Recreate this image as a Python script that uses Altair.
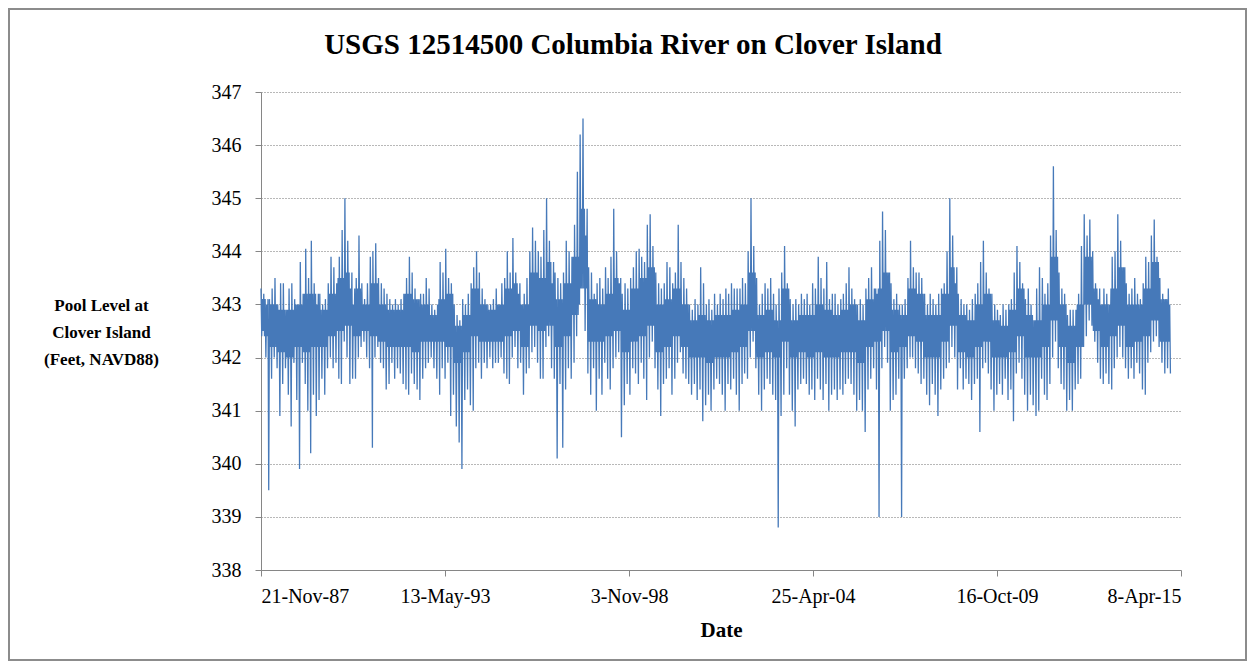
import altair as alt
import pandas as pd

# Monthly extremes of pool level (feet, NAVD88),
# starting 21-Nov-1987, one value per month.
HIGH_A = [343.3, 343.2, 343.0, 343.1, 343.3, 343.5, 343.0, 343.4, 343.4, 342.9,
          343.3, 343.4, 343.1, 343.0, 343.8, 343.2, 344.05, 343.5, 344.2, 343.4,
          343.0, 343.2, 343.0, 343.1, 343.4, 343.9, 343.7, 343.4, 343.9, 344.4,
          345.0, 344.2, 343.3, 343.0, 343.5, 344.3, 343.4, 343.1, 343.4, 343.9,
          344.0, 344.15, 343.5, 343.4, 343.3, 343.2, 343.1, 343.0, 343.1, 343.0,
          343.1, 343.2, 343.5, 343.9, 343.6, 343.3, 343.1, 343.2, 343.2, 343.5,
          343.3, 343.0, 342.9, 343.0, 343.8, 343.6, 344.05, 343.5, 343.4, 343.0,
          342.8, 342.7, 343.1, 343.0, 343.2, 343.4, 343.7, 344.0, 343.6, 343.3]
HIGH_B = [343.1, 343.0, 343.0, 343.1, 343.3, 343.0, 343.4, 343.5, 344.0, 343.6,
          344.25, 343.6, 343.2, 343.0, 343.2, 343.5, 344.0, 344.45, 344.2, 344.0,
          343.9, 344.4, 345.0, 344.2, 343.4, 343.6, 343.5, 343.4, 343.6, 344.2,
          344.0, 343.9, 344.5, 345.5, 346.2, 346.5, 344.3, 343.7, 343.6, 343.2,
          343.4, 343.5, 343.3, 343.7, 343.5, 343.9, 344.8, 344.0, 343.4, 343.2,
          343.4, 343.3, 343.5, 343.7, 344.0, 344.05, 343.9, 343.8, 344.5, 344.7,
          344.1, 343.6, 343.4, 343.3, 343.4, 343.8, 343.7, 343.4, 343.6, 344.5,
          343.8, 343.5, 343.3, 343.0, 342.9, 343.1, 343.0, 343.7, 343.4, 343.0]
HIGH_C = [343.1, 342.9, 343.2, 343.0, 343.2, 343.1, 343.3, 343.2, 343.4, 343.3,
          343.3, 343.3, 343.5, 343.4, 344.0, 345.0, 344.1, 343.5, 343.0, 343.2,
          343.4, 343.3, 343.5, 343.2, 343.0, 343.3, 343.6, 344.1, 343.4, 343.1,
          343.0, 343.1, 343.0, 343.2, 343.1, 343.2, 343.0, 343.4, 343.3, 343.9,
          343.5, 343.3, 343.8, 343.1, 343.2, 343.2, 343.0, 343.1, 343.2, 343.4,
          343.7, 343.3, 343.1, 343.0, 343.1, 343.0, 343.3, 343.5, 343.7, 343.3,
          343.2, 344.2, 344.75, 344.4, 343.6, 343.4, 343.1, 343.2, 343.0, 343.0,
          343.1, 343.5, 344.2, 343.7, 343.6, 343.6, 343.5, 343.2, 343.0, 343.2]
HIGH_D = [343.1, 343.0, 343.2, 343.3, 343.4, 344.0, 345.0, 344.3, 343.4, 343.2,
          343.1, 343.0, 343.0, 342.9, 343.1, 343.2, 343.4, 343.8, 344.2, 343.6,
          343.3, 343.2, 343.0, 342.9, 342.8, 343.0, 342.9, 343.0, 343.1, 343.6,
          344.1, 343.8, 343.4, 343.1, 343.3, 343.0, 342.7, 343.3, 343.7, 343.5,
          343.2, 343.4, 344.3, 345.6, 344.4, 343.6, 343.3, 343.2, 342.8, 342.9,
          342.9, 342.9, 343.2, 344.1, 344.7, 344.3, 344.6, 344.0, 343.4, 343.1,
          343.0, 343.3, 343.2, 343.0, 343.9, 344.0, 344.7, 344.2, 343.7, 343.4,
          343.2, 343.3, 343.5, 343.2, 343.1, 343.4, 343.9, 343.8, 344.3, 344.6,
          343.9, 343.5, 343.2, 343.1, 343.3]

LOW_A = [342.5, 342.0, 339.5, 341.6, 342.0, 341.8, 340.9, 341.5, 341.8, 341.3,
         340.7, 341.9, 341.2, 339.9, 341.9, 341.5, 341.0, 340.2, 341.3, 340.9,
         341.2, 341.6, 341.3, 341.8, 342.0, 341.8, 341.9, 341.6, 341.5, 342.3,
         342.0, 341.5, 341.6, 341.6, 342.0, 342.2, 342.3, 342.0, 341.8, 340.3,
         342.0, 342.2, 341.9, 341.8, 341.4, 341.5, 341.9, 341.6, 341.8, 341.7,
         341.5, 341.4, 341.3, 341.7, 341.5, 341.4, 341.2, 341.6, 341.8, 341.9,
         342.0, 341.8, 341.6, 341.3, 341.8, 341.6, 341.9, 340.9, 341.3, 340.7,
         340.4, 339.9, 341.2, 341.4, 341.1, 341.0, 341.8, 341.9, 341.6, 341.9]
LOW_B = [341.8, 342.0, 341.8, 341.9, 341.9, 342.0, 341.7, 341.6, 341.5, 342.0,
         342.2, 341.8, 341.9, 341.3, 341.7, 341.8, 342.1, 342.2, 341.9, 341.6,
         341.6, 342.2, 342.4, 341.8, 341.6, 340.1, 341.5, 340.3, 341.4, 341.8,
         341.6, 341.9, 342.4, 343.0, 343.3, 342.5, 341.7, 341.3, 341.8, 341.0,
         341.6, 341.3, 341.9, 341.6, 341.4, 341.8, 342.0, 342.1, 340.5, 341.1,
         341.5, 341.3, 341.8, 341.7, 341.5, 341.9, 341.6, 341.2, 342.0, 342.3,
         341.8, 341.4, 340.9, 341.5, 341.6, 341.8, 341.3, 341.6, 341.9, 342.1,
         341.7, 341.6, 341.5, 341.3, 341.5, 341.2, 341.4, 340.8, 341.1, 341.3]
LOW_C = [341.0, 341.4, 341.6, 341.5, 341.3, 341.0, 341.5, 341.4, 341.6, 341.3,
         341.0, 341.5, 341.7, 341.6, 342.0, 342.3, 341.8, 341.3, 341.0, 341.4,
         341.6, 341.5, 341.3, 341.2, 338.8, 340.9, 341.3, 341.8, 341.3, 341.0,
         340.7, 341.4, 341.5, 341.6, 341.5, 341.3, 341.4, 341.2, 341.6, 341.4,
         341.2, 341.5, 341.0, 341.3, 341.4, 341.2, 341.4, 341.3, 341.5, 341.6,
         341.5, 341.3, 341.0, 341.2, 341.0, 340.6, 341.4, 341.6, 341.8, 341.4,
         339.0, 341.8, 342.2, 341.9, 341.0, 341.2, 341.3, 341.6, 339.0, 341.6,
         341.8, 342.0, 342.0, 341.8, 341.7, 341.5, 341.6, 341.3, 341.1, 341.5]
LOW_D = [341.3, 340.9, 341.4, 341.6, 341.8, 341.9, 342.2, 342.0, 341.4, 341.8,
         341.4, 341.6, 341.5, 341.2, 341.5, 341.6, 340.6, 341.8, 341.9, 341.7,
         341.4, 341.0, 341.3, 341.5, 341.3, 341.6, 341.2, 341.4, 340.8, 341.7,
         341.9, 341.6, 341.3, 341.0, 341.3, 341.1, 340.9, 341.0, 341.6, 341.3,
         341.2, 341.5, 342.0, 342.3, 341.8, 341.5, 341.4, 341.0, 341.2, 341.0,
         341.4, 341.5, 341.6, 342.2, 342.4, 342.7, 342.6, 342.3, 341.9, 341.6,
         341.5, 341.7, 341.5, 341.4, 341.8, 342.0, 342.2, 342.0, 341.8, 341.6,
         341.8, 341.6, 341.9, 341.7, 341.4, 341.3, 341.9, 342.1, 342.3, 342.4,
         342.2, 341.9, 341.7, 341.8, 341.7]

# Edges of the dense core band, one value per quarter (3 months).
CORE_LO = [342.4, 342.2, 342.1, 342.0, 342.2, 342.1, 342.2, 342.2, 342.4, 342.5,
           342.6, 342.4, 342.5, 342.4, 342.3, 342.2, 342.2, 342.2, 342.1, 342.3,
           342.3, 342.3, 342.2, 341.9, 342.1, 342.4, 342.3, 342.3, 342.3, 342.4,
           342.5, 342.2, 342.6, 342.5, 342.6, 342.2, 342.4, 342.8, 343.3, 342.3,
           342.3, 342.4, 342.5, 342.1, 342.3, 342.4, 342.6, 342.1, 342.2, 342.4,
           342.2, 342.0, 342.0, 341.9, 342.0, 342.0, 342.1, 342.2, 342.5, 342.0,
           342.1, 342.0, 342.3, 342.0, 342.1, 342.0, 342.1, 342.0, 342.0, 342.1,
           342.1, 341.9, 342.2, 342.3, 342.5, 342.1, 342.2, 342.4, 342.3, 342.0,
           342.0, 342.3, 342.6, 342.1, 342.0, 342.2, 342.3, 342.0, 342.0, 342.1,
           342.4, 342.0, 342.0, 342.2, 342.7, 342.2, 341.9, 342.2, 343.0, 342.5,
           342.2, 342.4, 342.6, 342.2, 342.3, 342.4, 342.7, 342.3, 342.3]
CORE_HI = [343.1, 343.0, 342.9, 342.9, 343.0, 343.2, 343.2, 342.9, 343.2, 343.5,
           343.6, 343.3, 343.0, 343.4, 343.0, 342.9, 342.9, 343.2, 343.1, 343.0,
           342.8, 343.1, 343.2, 342.6, 342.8, 343.3, 343.0, 342.9, 343.0, 343.3,
           343.4, 343.0, 343.6, 343.5, 343.8, 343.1, 343.4, 343.9, 344.8, 343.1,
           343.0, 343.2, 343.5, 342.9, 343.3, 343.5, 343.7, 343.0, 343.1, 343.3,
           343.0, 342.7, 342.8, 342.7, 342.8, 342.8, 342.9, 343.0, 343.6, 342.8,
           342.9, 342.7, 343.3, 342.7, 342.8, 342.8, 343.0, 342.9, 342.8, 342.9,
           343.0, 342.7, 343.1, 343.3, 343.6, 342.9, 342.8, 343.3, 343.2, 342.8,
           342.8, 343.2, 343.7, 342.8, 342.7, 343.0, 343.2, 342.7, 342.6, 342.9,
           343.3, 342.8, 342.7, 343.0, 343.9, 343.0, 342.6, 343.0, 343.9, 343.3,
           343.0, 343.3, 343.7, 343.0, 343.0, 343.3, 343.8, 343.1, 343.0]

HIGH = HIGH_A + HIGH_B + HIGH_C + HIGH_D
LOW = LOW_A + LOW_B + LOW_C + LOW_D

TICK_DATES = [(1987, 11, 21), (1993, 5, 13), (1998, 11, 3),
              (2004, 4, 25), (2009, 10, 16), (2015, 4, 8)]
Y_TICKS = list(range(338, 348))

TITLE = "USGS 12514500 Columbia River on Clover Island"
Y_TITLE = ["Pool Level at", "Clover Island", "(Feet, NAVD88)"]
X_TITLE = "Date"

start = pd.Timestamp("1987-11-21")
rows = []
for m, (h, l) in enumerate(zip(HIGH, LOW)):
    d = start + pd.DateOffset(months=m)
    c_lo = CORE_LO[m // 3]
    c_hi = CORE_HI[m // 3]
    seq = [(0, h), (8, c_lo), (15, c_hi), (23, l)]
    for off, v in seq:
        rows.append({"date": (d + pd.Timedelta(days=off)).strftime("%Y/%m/%d"),
                     "level": v})
df = pd.DataFrame(rows)

FONT = "Liberation Serif"
tick_dt = [alt.DateTime(year=y, month=mo, date=d) for (y, mo, d) in TICK_DATES]

line = alt.Chart(df).mark_line(color="#4679b9", strokeWidth=1.3).encode(
    x=alt.X(
        "date:T",
        scale=alt.Scale(domain=[tick_dt[0], tick_dt[-1]]),
        axis=alt.Axis(
            values=tick_dt, format="%-d-%b-%y", title=X_TITLE, grid=False,
            labelFont=FONT, titleFont=FONT,
            labelFontSize=20, labelPadding=10, labelColor="#000000",
            titleFontSize=21, titleFontWeight="bold", titleColor="#000000",
            titleBaseline="middle", titleY=60, titleAlign="center",
            domainColor="#868686", tickColor="#868686", tickSize=6,
        ),
    ),
    y=alt.Y(
        "level:Q",
        scale=alt.Scale(domain=[338, 347], nice=False, zero=False),
        axis=alt.Axis(
            values=Y_TICKS, format="d", title=Y_TITLE, grid=True,
            labelFont=FONT, titleFont=FONT,
            labelFontSize=20, labelPadding=14, labelColor="#000000",
            titleAngle=0, titleAlign="center", titleBaseline="middle",
            titleX=-160, titleY=213, titleFontSize=17, titleFontWeight="bold",
            titleLineHeight=27, titleColor="#000000",
            domainColor="#868686", tickColor="#868686", tickSize=6,
            gridColor="#707070", gridDash=[1, 2], gridWidth=1,
        ),
    ),
)

border = alt.Chart(pd.DataFrame({"k": [0]})).mark_rect(
    filled=False, stroke="#8c8c8c", strokeWidth=2
).encode(
    x=alt.value(-252), x2=alt.value(985), y=alt.value(-83), y2=alt.value(568)
)

chart = alt.layer(border, line).properties(
    width=920,
    height=478,
    title=alt.TitleParams(
        text=TITLE, font=FONT, fontSize=29, fontWeight="bold", color="#000000",
        anchor="middle", dx=-88, dy=70, offset=18,
    ),
    autosize=alt.AutoSizeParams(type="none"),
    padding={"left": 253, "top": 84, "right": 66, "bottom": 91},
).configure(background="#ffffff").configure_view(stroke=None)

chart.save("out.html", embed_options={"renderer": "svg", "actions": False})
